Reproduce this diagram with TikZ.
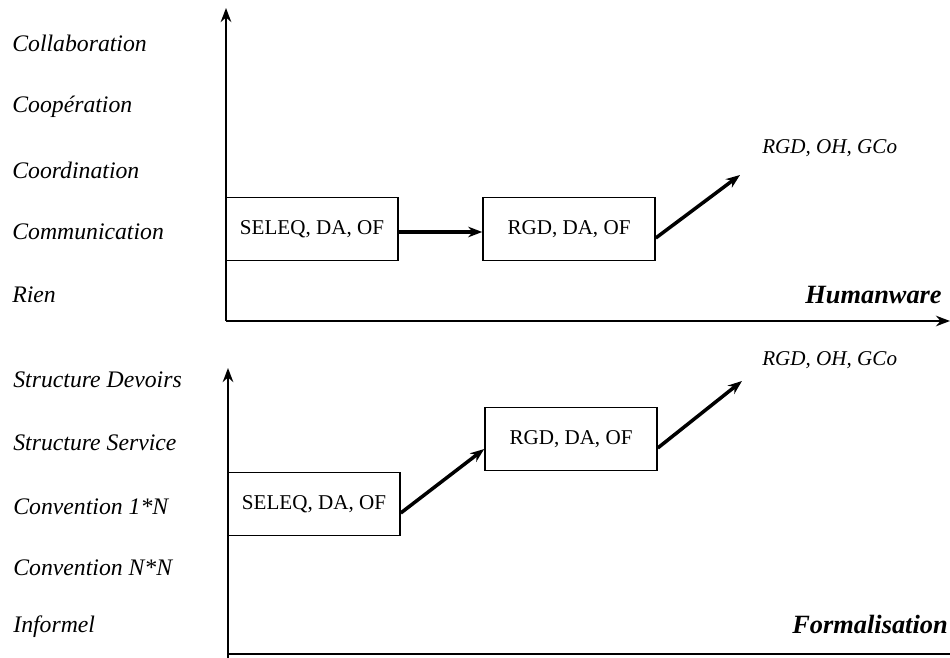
\documentclass[tikz,border=0pt]{standalone}
\usepackage{fontspec}
\setmainfont{Liberation Serif}
\usetikzlibrary{arrows.meta}
\tikzset{
  lvl/.style={anchor=west, inner sep=0pt, font=\fontsize{13.5}{16}\selectfont\itshape},
  etape/.style={draw, line width=0.9pt, minimum width=3.44cm, minimum height=1.26cm, inner sep=0pt, font=\fontsize{12}{14}\selectfont},
  cible/.style={anchor=west, inner sep=0pt, font=\fontsize{12}{14}\selectfont\itshape},
  axe/.style={line width=1.3pt},
  titre/.style={anchor=east, inner sep=0pt, font=\fontsize{15}{18}\selectfont\bfseries\itshape},
  fleche/.style={->, line width=2pt}
}
\begin{document}
\begin{tikzpicture}[x=0.02cm, y=-0.02cm, >={Stealth[length=8pt,width=6pt]}]
    \useasboundingbox (0,0) rectangle (950,658);
    % Humanware
    \coordinate (ho) at (226,321);
    \coordinate (hy) at (226,8);
    \coordinate (hx) at (950,321);
    \draw[axe,->] (ho) -- (hy);
    \draw[axe,->] (ho) -- (hx);
    \node[lvl] (collab) at (12,43) {Collaboration};
    \node[lvl] (coop) at (12,107) {Coopération};
    \node[lvl] (coord) at (12,170) {Coordination};
    \node[lvl] (comm) at (12,232) {Communication};
    \node[lvl] (rien) at (12,295) {Rien};
    \node[etape] (hb1) at (312,229) {SELEQ, DA, OF};
    \node[etape] (hb2) at (569,229) {RGD, DA, OF};
    \coordinate (hend) at (740,175);
    \draw[fleche] ([yshift=-0.06cm]hb1.east) -- ([yshift=-0.06cm]hb2.west);
    \draw[fleche] ([yshift=-0.18cm]hb2.east) -- (hend);
    \node[cible] (hcible) at (762,148) {RGD, OH, GCo};
    \node[titre] (hum) at (942,295) {Humanware};
    % Formalisation
    \coordinate (fo) at (228,654);
    \coordinate (fy) at (228,368);
    \coordinate (fbas) at (228,658);
    \coordinate (fx) at (950,654);
    \draw[axe,->] (fbas) -- (fy);
    \draw[axe] (fo) -- (fx);
    \node[lvl] (devoirs) at (13,380) {Structure Devoirs};
    \node[lvl] (service) at (13,443) {Structure Service};
    \node[lvl] (conv1) at (13,507) {Convention \textit{1*N}};
    \node[lvl] (convn) at (13,568) {Convention N*N};
    \node[lvl] (inf) at (13,627) {Informel};
    \node[etape] (fb1) at (314,504) {SELEQ, DA, OF};
    \node[etape] (fb2) at (571,439) {RGD, DA, OF};
    \coordinate (fend) at (742,381);
    \draw[fleche] ([yshift=-0.18cm]fb1.east) -- ([yshift=-0.2cm]fb2.west);
    \draw[fleche] ([yshift=-0.18cm]fb2.east) -- (fend);
    \node[cible] (fcible) at (762,360) {RGD, OH, GCo};
    \node[titre] (form) at (948,624) {Formalisation};
\end{tikzpicture}
\end{document}
